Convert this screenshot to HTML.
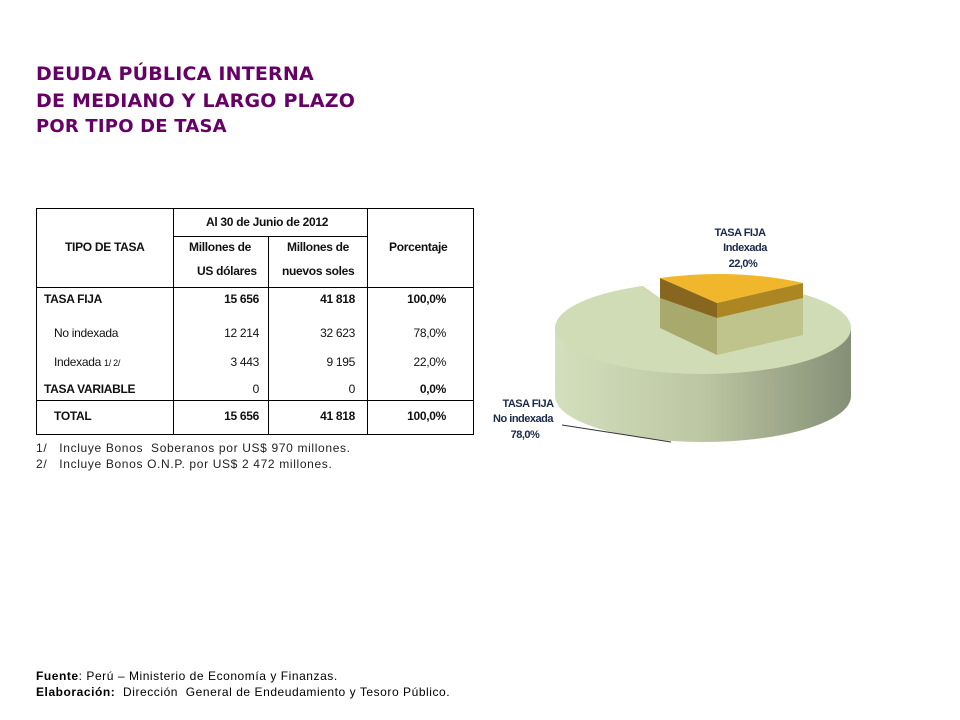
<!DOCTYPE html>
<html><head><meta charset="utf-8"><style>
body{margin:0;width:960px;height:720px;background:#fff;position:relative;overflow:hidden;font-family:"Liberation Sans",sans-serif}
.t{position:absolute;white-space:nowrap}
.ti{color:#660066;font-family:"DejaVu Sans",sans-serif;font-weight:bold;font-size:19px;left:36px;letter-spacing:0.2px}
.c{font-size:12px;color:#111;letter-spacing:-0.3px}
.b{font-weight:bold}
.r{text-align:right}
.ln{position:absolute;background:#000}
.fn{font-size:12px;color:#222;letter-spacing:0.65px}
.ft{font-size:12px;color:#000;letter-spacing:0.55px}
</style></head><body>
<div class="t ti" style="top:63px">DEUDA PÚBLICA INTERNA</div>
<div class="t ti" style="top:90px">DE MEDIANO Y LARGO PLAZO</div>
<div class="t ti" style="top:116px;font-size:18px">POR TIPO DE TASA</div>

<div class="ln" style="left:36px;top:208px;width:438px;height:1px"></div>
<div class="ln" style="left:36px;top:434px;width:438px;height:1px"></div>
<div class="ln" style="left:36px;top:287px;width:438px;height:1px"></div>
<div class="ln" style="left:36px;top:400px;width:438px;height:1px"></div>
<div class="ln" style="left:173px;top:236px;width:194px;height:1px"></div>
<div class="ln" style="left:36px;top:208px;width:1px;height:227px"></div>
<div class="ln" style="left:473px;top:208px;width:1px;height:227px"></div>
<div class="ln" style="left:173px;top:208px;width:1px;height:227px"></div>
<div class="ln" style="left:367px;top:208px;width:1px;height:227px"></div>
<div class="ln" style="left:268px;top:236px;width:1px;height:199px"></div>

<div class="t c b" style="left:65px;top:240px">TIPO DE TASA</div>
<div class="t c b" style="left:206px;top:215px">Al 30 de Junio de 2012</div>
<div class="t c b" style="left:189px;top:240px">Millones de</div>
<div class="t c b" style="left:197px;top:264px">US dólares</div>
<div class="t c b" style="left:287px;top:240px">Millones de</div>
<div class="t c b" style="left:282px;top:264px">nuevos soles</div>
<div class="t c b" style="left:389px;top:240px">Porcentaje</div>

<div class="t c b" style="left:44px;top:292px">TASA FIJA</div>
<div class="t c" style="left:54px;top:326px">No indexada</div>
<div class="t c" style="left:54px;top:355px">Indexada <span style="font-size:9px">1/ 2/</span></div>
<div class="t c b" style="left:44px;top:382px">TASA VARIABLE</div>
<div class="t c b" style="left:54px;top:409px">TOTAL</div>

<div class="t c b r" style="right:701px;top:292px">15 656</div>
<div class="t c r" style="right:701px;top:326px">12 214</div>
<div class="t c r" style="right:701px;top:355px">3 443</div>
<div class="t c r" style="right:701px;top:382px">0</div>
<div class="t c b r" style="right:701px;top:409px">15 656</div>

<div class="t c b r" style="right:605px;top:292px">41 818</div>
<div class="t c r" style="right:605px;top:326px">32 623</div>
<div class="t c r" style="right:605px;top:355px">9 195</div>
<div class="t c r" style="right:605px;top:382px">0</div>
<div class="t c b r" style="right:605px;top:409px">41 818</div>

<div class="t c b r" style="right:514px;top:292px">100,0%</div>
<div class="t c r" style="right:514px;top:326px">78,0%</div>
<div class="t c r" style="right:514px;top:355px">22,0%</div>
<div class="t c b r" style="right:514px;top:382px">0,0%</div>
<div class="t c b r" style="right:514px;top:409px">100,0%</div>

<div class="t fn" style="left:36px;top:441px">1/&nbsp;&nbsp;&nbsp;Incluye Bonos&nbsp; Soberanos por US$ 970 millones.</div>
<div class="t fn" style="left:36px;top:457px">2/&nbsp;&nbsp;&nbsp;Incluye Bonos O.N.P. por US$ 2 472 millones.</div>

<div class="t ft" style="left:36px;top:669px"><b>Fuente</b>: Perú – Ministerio de Economía y Finanzas.</div>
<div class="t ft" style="left:36px;top:685px"><b>Elaboración:</b>&nbsp; Dirección&nbsp; General de Endeudamiento y Tesoro Público.</div>

<svg class="t" style="left:0;top:0" width="960" height="720">
<defs>
<linearGradient id="sd" x1="0" x2="1" y1="0" y2="0">
<stop offset="0" stop-color="#d3dfbd"/><stop offset="0.5" stop-color="#bcc6a2"/><stop offset="1" stop-color="#858f76"/>
</linearGradient>
</defs>
<path d="M555,328 L555,396 A148,46 0 0 0 851,396 L851,328 Z" fill="url(#sd)"/>
<ellipse cx="703" cy="328" rx="148" ry="46" fill="#cfdcb5"/>
<path d="M643,286 L660,298 L660,276 L803,276 L803,294 A148,46 0 0 0 643,286 Z" fill="#fff"/>
<path d="M660,298 L717,318 L717,355 L660,328 Z" fill="#a7aa6c"/>
<path d="M717,318 L803,298 L803,335 L717,355 Z" fill="#bfc38c"/>
<path d="M660,278 L717,303 L717,318 L660,298 Z" fill="#87661f"/>
<path d="M717,303 L803,283 L803,298 L717,318 Z" fill="#ad8624"/>
<path d="M660,278 Q735,268 803,283 L717,303 Z" fill="#f0b72c"/>
<line x1="562" y1="425" x2="671" y2="442" stroke="#333" stroke-width="1"/>
<g font-family="Liberation Sans,sans-serif" font-weight="bold" font-size="11" fill="#1a2a4a" text-anchor="middle" letter-spacing="-0.5">
<text x="740" y="236">TASA FIJA</text>
<text x="745" y="251">Indexada</text>
<text x="743" y="267">22,0%</text>
<text x="528" y="407">TASA FIJA</text>
<text x="523" y="422">No indexada</text>
<text x="525" y="438">78,0%</text>
</g>
</svg>
</body></html>
